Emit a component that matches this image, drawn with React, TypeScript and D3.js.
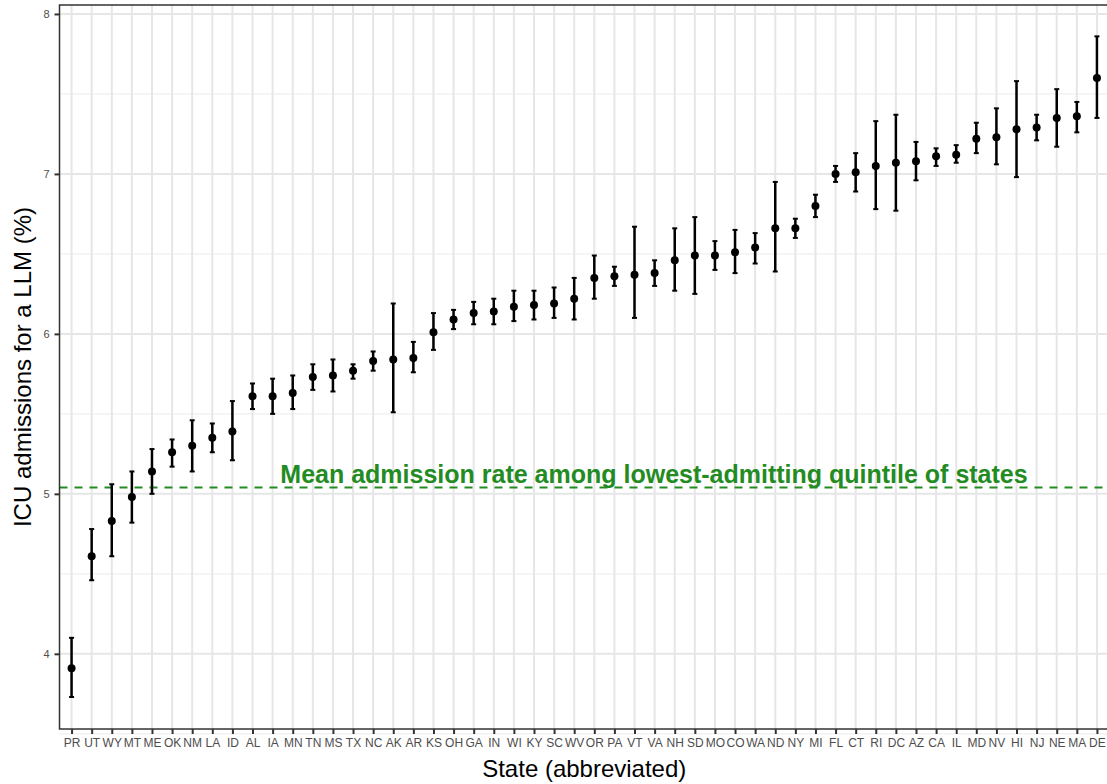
import React, { useEffect, useRef } from "react";
import * as d3 from "d3";

const states = [
  "PR", "UT", "WY", "MT", "ME", "OK", "NM", "LA", "ID", "AL", "IA", "MN", "TN",
  "MS", "TX", "NC", "AK", "AR", "KS", "OH", "GA", "IN", "WI", "KY", "SC", "WV",
  "OR", "PA", "VT", "VA", "NH", "SD", "MO", "CO", "WA", "ND", "NY", "MI", "FL",
  "CT", "RI", "DC", "AZ", "CA", "IL", "MD", "NV", "HI", "NJ", "NE", "MA", "DE",
];

const rate = [
  3.91, 4.61, 4.83, 4.98, 5.14, 5.26, 5.30, 5.35, 5.39, 5.61, 5.61, 5.63, 5.73,
  5.74, 5.77, 5.83, 5.84, 5.85, 6.01, 6.09, 6.13, 6.14, 6.17, 6.18, 6.19, 6.22,
  6.35, 6.36, 6.37, 6.38, 6.46, 6.49, 6.49, 6.51, 6.54, 6.66, 6.66, 6.80, 7.00,
  7.01, 7.05, 7.07, 7.08, 7.11, 7.12, 7.22, 7.23, 7.28, 7.29, 7.35, 7.36, 7.60,
];

const lower = [
  3.73, 4.46, 4.61, 4.82, 5.00, 5.17, 5.14, 5.26, 5.21, 5.53, 5.50, 5.53, 5.65,
  5.64, 5.72, 5.77, 5.51, 5.76, 5.90, 6.03, 6.06, 6.06, 6.08, 6.09, 6.10, 6.09,
  6.22, 6.30, 6.10, 6.30, 6.27, 6.25, 6.40, 6.38, 6.44, 6.39, 6.60, 6.73, 6.95,
  6.89, 6.78, 6.77, 6.96, 7.05, 7.07, 7.13, 7.06, 6.98, 7.21, 7.17, 7.26, 7.35,
];

const upper = [
  4.10, 4.78, 5.06, 5.14, 5.28, 5.34, 5.46, 5.44, 5.58, 5.69, 5.72, 5.74, 5.81,
  5.84, 5.81, 5.89, 6.19, 5.95, 6.13, 6.15, 6.20, 6.22, 6.27, 6.27, 6.29, 6.35,
  6.49, 6.42, 6.67, 6.46, 6.66, 6.73, 6.58, 6.65, 6.63, 6.95, 6.72, 6.87, 7.05,
  7.13, 7.33, 7.37, 7.20, 7.16, 7.18, 7.32, 7.41, 7.58, 7.37, 7.53, 7.45, 7.86,
];

const yTicks = [4, 5, 6, 7, 8];
const yMinor = [3.5, 4.5, 5.5, 6.5, 7.5];
const meanRate = 5.04;
const meanLabel = "Mean admission rate among lowest-admitting quintile of states";

const W = 1107;
const H = 784;
const margin = { top: 5, right: -2, bottom: 55, left: 59.5 };

export default function App() {
  const ref = useRef<SVGSVGElement>(null);

  useEffect(() => {
    const svg = d3.select(ref.current);
    svg.selectAll("*").remove();

    const left = margin.left;
    const right = W - margin.right;
    const top = margin.top;
    const bottom = H - margin.bottom;

    const x = d3.scalePoint().domain(states).range([left, right]).padding(0.6);
    const y = d3.scaleLinear().domain([3.53, 8.056]).range([bottom, top]);

    const data = states.map((s, i) => ({ s, v: rate[i], lo: lower[i], hi: upper[i] }));
    const font = "Liberation Sans, Arial, sans-serif";

    svg.append("rect").attr("width", W).attr("height", H).attr("fill", "white");

    const grid = svg.append("g");
    grid
      .selectAll(".minor")
      .data(yMinor)
      .enter()
      .append("line")
      .attr("x1", left)
      .attr("x2", right)
      .attr("y1", (d) => y(d))
      .attr("y2", (d) => y(d))
      .attr("stroke", "#efefef")
      .attr("stroke-width", 1.2);
    grid
      .selectAll(".major")
      .data(yTicks)
      .enter()
      .append("line")
      .attr("x1", left)
      .attr("x2", right)
      .attr("y1", (d) => y(d))
      .attr("y2", (d) => y(d))
      .attr("stroke", "#e6e6e6")
      .attr("stroke-width", 2);
    grid
      .selectAll(".vx")
      .data(states)
      .enter()
      .append("line")
      .attr("x1", (d) => x(d)!)
      .attr("x2", (d) => x(d)!)
      .attr("y1", top)
      .attr("y2", bottom)
      .attr("stroke", "#e6e6e6")
      .attr("stroke-width", 2);

    // mean line + label
    svg
      .append("line")
      .attr("x1", left)
      .attr("x2", right)
      .attr("y1", y(meanRate))
      .attr("y2", y(meanRate))
      .attr("stroke", "#228b22")
      .attr("stroke-width", 2)
      .attr("stroke-dasharray", "8,7");

    svg
      .append("text")
      .attr("x", 654)
      .attr("y", y(meanRate) - 4)
      .attr("text-anchor", "middle")
      .attr("font-family", font)
      .attr("font-weight", "bold")
      .attr("font-size", 25)
      .attr("fill", "#228b22")
      .text(meanLabel);

    // error bars
    const eb = svg.append("g");
    eb.selectAll(".bar")
      .data(data)
      .enter()
      .append("line")
      .attr("x1", (d) => x(d.s)!)
      .attr("x2", (d) => x(d.s)!)
      .attr("y1", (d) => y(d.lo))
      .attr("y2", (d) => y(d.hi))
      .attr("stroke", "black")
      .attr("stroke-width", 2.5);
    ["lo", "hi"].forEach((k) => {
      eb.selectAll(".cap-" + k)
        .data(data)
        .enter()
        .append("line")
        .attr("x1", (d) => x(d.s)! - 2.5)
        .attr("x2", (d) => x(d.s)! + 2.5)
        .attr("y1", (d: any) => y(d[k]))
        .attr("y2", (d: any) => y(d[k]))
        .attr("stroke", "black")
        .attr("stroke-width", 2);
    });
    eb.selectAll(".pt")
      .data(data)
      .enter()
      .append("circle")
      .attr("cx", (d) => x(d.s)!)
      .attr("cy", (d) => y(d.v))
      .attr("r", 4)
      .attr("fill", "black");

    // panel border
    svg
      .append("rect")
      .attr("x", left)
      .attr("y", top)
      .attr("width", right - left)
      .attr("height", bottom - top)
      .attr("fill", "none")
      .attr("stroke", "#333333")
      .attr("stroke-width", 1.5);

    const xAxis = svg
      .append("g")
      .attr("transform", `translate(0,${bottom})`)
      .call(d3.axisBottom(x).tickSize(5).tickPadding(4));
    xAxis.select(".domain").remove();
    xAxis.selectAll("line").attr("stroke", "#333333").attr("stroke-width", 2);
    xAxis
      .selectAll("text")
      .attr("font-family", font)
      .attr("font-size", 12)
      .attr("fill", "#4d4d4d");

    const yAxis = svg
      .append("g")
      .attr("transform", `translate(${left},0)`)
      .call(
        d3.axisLeft(y).tickValues(yTicks).tickFormat(d3.format("d")).tickSize(5).tickPadding(5)
      );
    yAxis.select(".domain").remove();
    yAxis.selectAll("line").attr("stroke", "#333333").attr("stroke-width", 2);
    yAxis
      .selectAll("text")
      .attr("font-family", font)
      .attr("font-size", 11)
      .attr("fill", "#4d4d4d");

    svg
      .append("text")
      .attr("x", (left + right) / 2)
      .attr("y", 777)
      .attr("text-anchor", "middle")
      .attr("font-family", font)
      .attr("font-size", 24)
      .attr("fill", "black")
      .text("State (abbreviated)");

    svg
      .append("text")
      .attr("transform", `translate(31,${(top + bottom) / 2}) rotate(-90)`)
      .attr("text-anchor", "middle")
      .attr("font-family", font)
      .attr("font-size", 24)
      .attr("fill", "black")
      .text("ICU admissions for a LLM (%)");
  }, []);

  return <svg ref={ref} width={W} height={H} style={{ position: "absolute", left: 0, top: 0 }} />;
}
